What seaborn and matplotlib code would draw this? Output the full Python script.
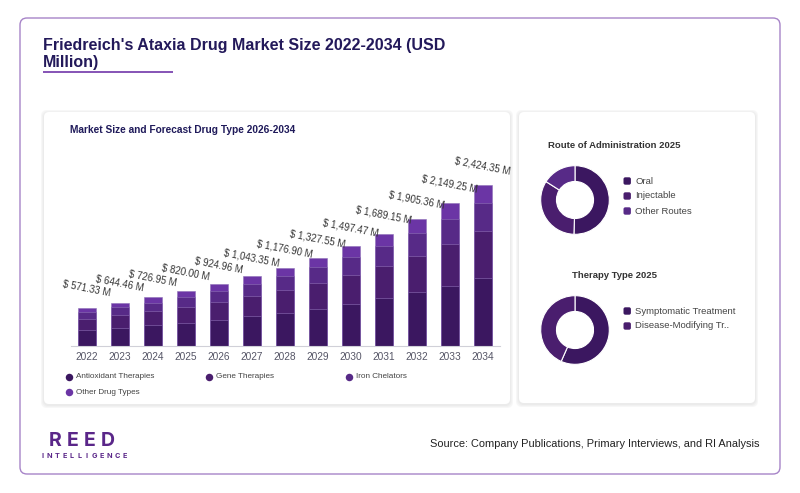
import numpy as np
import pandas as pd
import matplotlib
matplotlib.use('Agg')
import matplotlib.pyplot as plt
import seaborn as sns
from matplotlib.patches import FancyBboxPatch

# ---- data ----
years = ['2022', '2023', '2024', '2025', '2026', '2027', '2028',
         '2029', '2030', '2031', '2032', '2033', '2034']
totals = [571.33, 644.46, 726.95, 820.00, 924.96, 1043.35, 1176.90,
          1327.55, 1497.47, 1689.15, 1905.36, 2149.25, 2424.35]
antioxidant = [240.0, 270.7, 305.3, 344.4, 388.5, 438.2, 494.3, 557.6, 628.9, 709.4, 800.3, 902.7, 1018.2]
gene = [165.7, 186.9, 210.8, 237.8, 268.2, 302.6, 341.3, 385.0, 434.3, 489.9, 552.6, 623.3, 703.1]
iron = [102.8, 116.0, 130.9, 147.6, 166.5, 187.8, 211.8, 239.0, 269.5, 304.0, 343.0, 386.9, 436.4]
other = [62.8, 70.9, 80.0, 90.2, 101.7, 114.8, 129.5, 146.0, 164.7, 185.8, 209.6, 236.4, 266.7]
segments = ['Antioxidant Therapies', 'Gene Therapies', 'Iron Chelators', 'Other Drug Types']

route_labels = ['Oral', 'Injectable', 'Other Routes']
route_share = [50.5, 33.5, 16.0]
therapy_labels = ['Symptomatic Treatment', 'Disease-Modifying Tr..']
therapy_share = [56.6, 43.4]

seg_colors = ['#3b1760', '#4a1e6e', '#572a87', '#6b35a5']

sns.set_theme(style='white')
plt.rcParams['font.family'] = ['Liberation Sans', 'DejaVu Sans']

W, H = 800, 493
fig = plt.figure(figsize=(8, 4.93), dpi=100)
fig.patch.set_facecolor('white')

def fx(x):
    return x / W

def fy(y):
    return 1 - y / H

# background layer in pixel coords
bg = fig.add_axes([0, 0, 1, 1], zorder=0)
bg.set_xlim(0, W)
bg.set_ylim(H, 0)
bg.axis('off')

# outer frame
bg.add_patch(FancyBboxPatch((20, 18), 760, 456, boxstyle='round,pad=0,rounding_size=7',
                            fc='white', ec='#a784c8', lw=1.0))
# cards with soft shadow
for (x0, y0, w, h) in [(44, 112, 466, 292), (519, 112, 236, 291)]:
    for k, c in enumerate(['#f7f7f7', '#f1f1f1', '#ebebeb']):
        d = 3 - k
        bg.add_patch(FancyBboxPatch((x0 - d, y0 - d + 1), w + 2 * d, h + 2 * d,
                                    boxstyle='round,pad=0,rounding_size=6', fc=c, ec='none'))
    bg.add_patch(FancyBboxPatch((x0, y0), w, h, boxstyle='round,pad=0,rounding_size=5',
                                fc='white', ec='none'))

# main title
bg.text(43, 45.5, "Friedreich's Ataxia Drug Market Size 2022-2034 (USD",
        fontsize=11.5, fontweight='bold', color='#23195a', va='center', ha='left')
bg.text(43, 62.5, "Million)",
        fontsize=11.5, fontweight='bold', color='#23195a', va='center', ha='left')
bg.plot([43, 173], [71.5, 71.5], color='#7c45b0', lw=1.3, solid_capstyle='butt')

# card titles
bg.text(70, 130, 'Market Size and Forecast Drug Type 2026-2034', fontsize=7.3,
        fontweight='bold', color='#1f1a5a', va='center', ha='left')
bg.text(614.5, 146, 'Route of Administration 2025', fontsize=6.8,
        fontweight='bold', color='#333333', va='center', ha='center')
bg.text(614.5, 276, 'Therapy Type 2025', fontsize=6.8,
        fontweight='bold', color='#333333', va='center', ha='center')

# ---- stacked bars ----
ax = fig.add_axes([fx(70.5), fy(345.5), (499.5 - 70.5) / W, 195.5 / H], zorder=2)
ax.patch.set_alpha(0)
df = pd.DataFrame({'year': years, segments[0]: antioxidant, segments[1]: gene,
                   segments[2]: iron, segments[3]: other})
cum = df[segments].cumsum(axis=1)
for seg, col in zip(segments[::-1], seg_colors[::-1]):
    sns.barplot(x=df['year'], y=cum[seg], color=col, width=0.52, ax=ax,
                edgecolor='#8f70b8', linewidth=0.4, saturation=1)
ax.set_xlim(-0.5, 12.5)
ax.set_ylim(0, 2950)
ax.set_xlabel('')
ax.set_ylabel('')
ax.set_yticks([])
for s in ['top', 'right', 'left']:
    ax.spines[s].set_visible(False)
ax.spines['bottom'].set_color('#d0d0d8')
ax.spines['bottom'].set_linewidth(0.8)
ax.tick_params(axis='x', length=0, pad=5, labelsize=7.3, labelcolor='#555566')
for i, t in enumerate(totals):
    ax.annotate('$ {:,.2f} M'.format(t), (i, t), xytext=(0, 13.5), textcoords='offset points',
                ha='center', va='center', rotation=-11, rotation_mode='anchor',
                fontsize=7.0, color='#333333')

# bar legend
for (lx, ly), name, col in zip([(69, 377), (209, 377), (349, 377), (69, 392)], segments, seg_colors):
    bg.plot(lx, ly, 'o', ms=5.4, color=col, mec='none')
    bg.text(lx + 6.5, ly, name, fontsize=5.9, color='#444444', va='center', ha='left')

# ---- donuts ----
def donut(cy, shares, labels):
    dax = fig.add_axes([fx(575 - 35), fy(cy + 35), 70 / W, 70 / H], zorder=2)
    dax.pie(shares, colors=seg_colors[:len(shares)], startangle=90, counterclock=False,
            radius=1.0, wedgeprops=dict(width=0.46, edgecolor='white', linewidth=0.8))
    dax.set_xlim(-1.02, 1.02)
    dax.set_ylim(-1.02, 1.02)
    dax.set_aspect('auto')
    dax.axis('off')
    for k, lab in enumerate(labels):
        yy = cy - 19 + 15 * k
        bg.add_patch(FancyBboxPatch((623.5, yy - 3.7), 7.4, 7.4,
                                    boxstyle='round,pad=0,rounding_size=1.8',
                                    fc=seg_colors[k], ec='none'))
        bg.text(635, yy, lab, fontsize=6.8, color='#444444', va='center', ha='left')

donut(200, route_share, route_labels)
donut(330, therapy_share, therapy_labels)

# ---- footer ----
for k, ch in enumerate('REED'):
    bg.text(55 + 17.5 * k, 441, ch, fontsize=14, fontweight='bold', color='#5a2689',
            va='center', ha='center', family=['Inter', 'DejaVu Sans'])
for k, ch in enumerate('INTELLIGENCE'):
    bg.text(42 + 7.5 * k, 456.5, ch, fontsize=5.2, fontweight='bold', color='#5a2689',
            va='center', ha='center', family=['Inter', 'DejaVu Sans'])
bg.text(760, 444, 'Source: Company Publications, Primary Interviews, and RI Analysis',
        fontsize=7.9, color='#222222', va='center', ha='right')

fig.savefig('out.png', dpi=100, facecolor='white')
